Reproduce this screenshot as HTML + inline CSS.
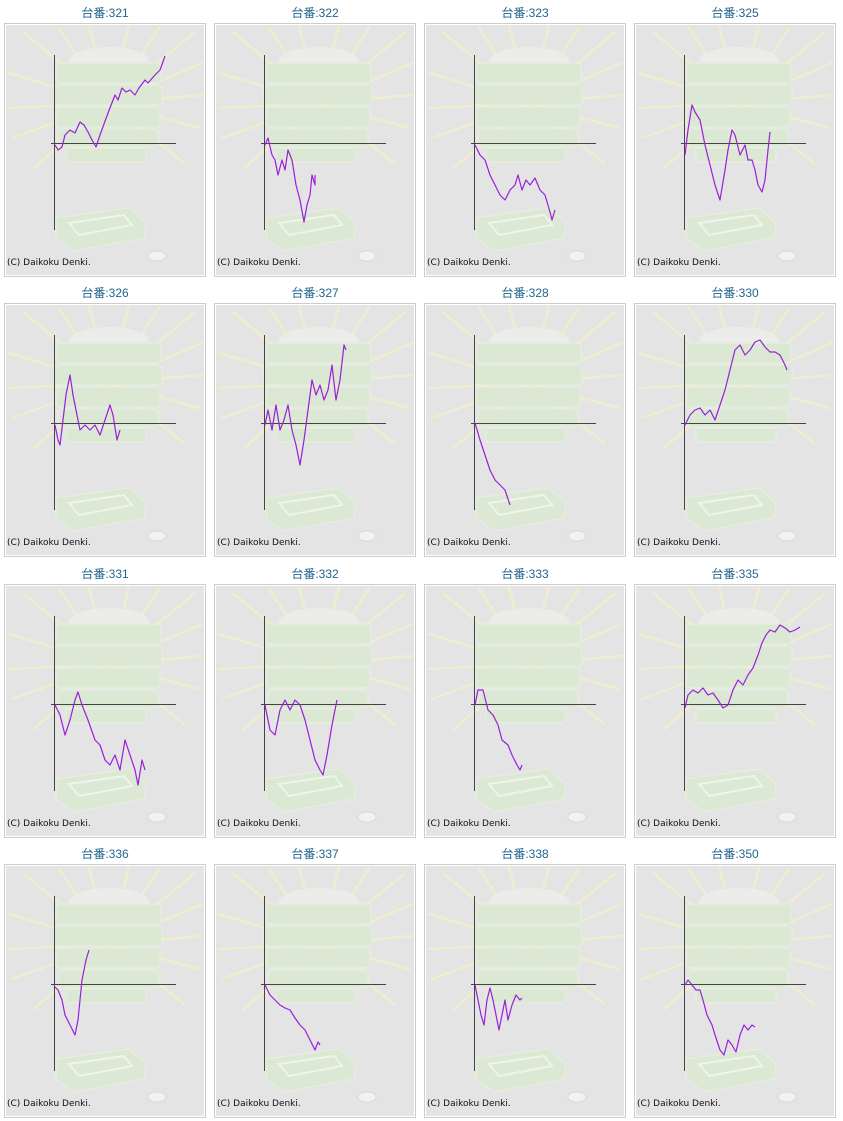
<!DOCTYPE html>
<html><head><meta charset="utf-8"><style>
html,body{margin:0;padding:0;background:#fff;}
svg{display:block}
.t{font-family:"Liberation Sans","Noto Sans CJK JP",sans-serif;font-size:12px;fill:#22668f;text-anchor:middle}
.c{font-family:"DejaVu Sans","Liberation Sans",sans-serif;font-size:9px;fill:#111}
.s{fill:none;stroke:#9a1fdc;stroke-width:1.2;stroke-linejoin:round}
</style></head><body>
<svg width="843" height="1121" viewBox="0 0 843 1121" xmlns="http://www.w3.org/2000/svg">
<defs>
<g id="bg">
<rect x="0.5" y="0.5" width="201" height="253" fill="#fff" stroke="#ccc"/>
<rect x="2" y="2" width="198" height="250" fill="#e4e4e4"/>
<g stroke="#eeeecf" stroke-width="2.5" stroke-linecap="round">
<line x1="105" y1="80" x2="5" y2="50"/><line x1="105" y1="80" x2="5" y2="85"/><line x1="105" y1="80" x2="8" y2="115"/>
<line x1="105" y1="80" x2="20" y2="10"/><line x1="105" y1="80" x2="55" y2="5"/><line x1="105" y1="80" x2="85" y2="3"/>
<line x1="105" y1="80" x2="125" y2="3"/><line x1="105" y1="80" x2="155" y2="5"/><line x1="105" y1="80" x2="190" y2="10"/>
<line x1="105" y1="80" x2="198" y2="40"/><line x1="105" y1="80" x2="198" y2="72"/><line x1="105" y1="80" x2="195" y2="105"/>
<line x1="105" y1="80" x2="30" y2="145"/><line x1="105" y1="80" x2="180" y2="140"/>
</g>
<ellipse cx="105" cy="38" rx="40" ry="14" fill="#ececea"/>
<g fill="#dbe8d3" stroke="#e8efe2" stroke-width="1">
<rect x="52" y="40" width="105" height="20" rx="4"/>
<rect x="50" y="62" width="108" height="20" rx="4"/>
<rect x="52" y="84" width="104" height="20" rx="4"/>
<rect x="54" y="106" width="100" height="18" rx="4"/>
<rect x="62" y="125" width="80" height="14" rx="3"/>
<path d="M52 195 L125 185 L142 200 L140 215 L70 228 L52 215 Z"/>
</g>
<path d="M65 200 L120 192 L128 202 L75 212 Z" fill="none" stroke="#eef4ea" stroke-width="2"/>
<ellipse cx="153" cy="233" rx="9" ry="5" fill="#f2f2f2" stroke="#d8d8d8"/>
<line x1="50.5" y1="32" x2="50.5" y2="207" stroke="#444" stroke-width="1"/>
<line x1="47" y1="120.5" x2="172" y2="120.5" stroke="#444" stroke-width="1"/>
<text class="c" x="3" y="242">(C) Daikoku Denki.</text>
</g>
</defs>
<use href="#bg" x="4" y="23"/><use href="#bg" x="214" y="23"/><use href="#bg" x="424" y="23"/><use href="#bg" x="634" y="23"/>
<use href="#bg" x="4" y="303"/><use href="#bg" x="214" y="303"/><use href="#bg" x="424" y="303"/><use href="#bg" x="634" y="303"/>
<use href="#bg" x="4" y="584"/><use href="#bg" x="214" y="584"/><use href="#bg" x="424" y="584"/><use href="#bg" x="634" y="584"/>
<use href="#bg" x="4" y="864"/><use href="#bg" x="214" y="864"/><use href="#bg" x="424" y="864"/><use href="#bg" x="634" y="864"/>
<text class="t" x="105" y="17">台番:321</text><text class="t" x="315" y="17">台番:322</text><text class="t" x="525" y="17">台番:323</text><text class="t" x="735" y="17">台番:325</text>
<text class="t" x="105" y="297">台番:326</text><text class="t" x="315" y="297">台番:327</text><text class="t" x="525" y="297">台番:328</text><text class="t" x="735" y="297">台番:330</text>
<text class="t" x="105" y="578">台番:331</text><text class="t" x="315" y="578">台番:332</text><text class="t" x="525" y="578">台番:333</text><text class="t" x="735" y="578">台番:335</text>
<text class="t" x="105" y="858">台番:336</text><text class="t" x="315" y="858">台番:337</text><text class="t" x="525" y="858">台番:338</text><text class="t" x="735" y="858">台番:350</text>
<polyline class="s" points="55,145 58,150 62,147 65,135 70,130 75,133 80,122 84,125 88,132 92,140 96,147 100,135 108,113 115,95 118,100 122,88 126,92 130,90 135,95 139,88 145,80 148,83 155,75 160,70 165,56"/>
<polyline class="s" points="265,145 268,138 272,155 275,160 278,175 282,160 285,170 288,150 292,160 296,185 300,200 304,222 307,205 310,195 312,175 315,185 315,175"/>
<polyline class="s" points="475,145 480,155 485,160 490,175 495,185 500,195 505,200 510,190 515,185 518,175 522,190 526,180 530,185 535,178 540,190 545,195 550,212 552,220 555,210"/>
<polyline class="s" points="685,155 688,130 692,105 695,112 700,120 705,145 710,165 715,185 720,200 725,170 728,150 732,130 735,135 740,155 745,145 748,160 752,160 755,170 758,185 762,192 765,180 768,150 770,132"/>
<polyline class="s" points="55,425 58,440 60,445 63,420 66,395 70,375 73,395 76,410 80,430 85,425 90,430 95,425 100,435 105,420 110,405 113,415 117,440 120,430"/>
<polyline class="s" points="265,425 268,410 272,430 276,405 280,430 284,420 288,405 292,430 296,445 300,465 304,440 308,410 312,380 316,395 320,385 324,400 328,390 332,365 336,400 340,380 344,345 346,350"/>
<polyline class="s" points="475,423 480,440 485,455 490,470 495,480 500,485 505,490 510,505"/>
<polyline class="s" points="685,425 690,415 695,410 700,408 705,415 710,410 715,420 720,405 725,390 730,370 735,350 740,345 745,355 750,350 755,342 760,340 765,347 770,352 775,352 780,355 785,365 787,370"/>
<polyline class="s" points="55,705 60,715 65,735 70,720 75,700 78,692 82,705 88,720 95,740 100,745 105,760 110,765 115,755 120,770 125,740 130,755 135,770 138,785 142,760 145,770"/>
<polyline class="s" points="265,705 270,730 275,735 280,710 285,700 290,710 295,700 300,705 305,720 310,740 315,760 320,770 323,775 327,755 332,725 337,700"/>
<polyline class="s" points="475,705 478,690 483,690 488,710 493,715 498,725 502,740 508,745 512,755 517,765 520,770 522,765"/>
<polyline class="s" points="685,708 688,695 693,690 698,693 703,688 708,695 713,693 718,700 723,708 728,705 733,690 738,680 743,685 748,675 753,668 758,655 762,643 766,635 770,630 775,632 780,625 785,628 790,632 795,630 800,627"/>
<polyline class="s" points="55,987 58,990 62,1000 65,1015 70,1025 75,1035 78,1020 82,980 86,960 89,950"/>
<polyline class="s" points="265,985 270,995 275,1000 280,1005 285,1008 290,1010 295,1018 300,1025 305,1030 310,1040 315,1050 318,1042 320,1045"/>
<polyline class="s" points="475,985 478,1000 481,1015 484,1025 487,1000 490,988 493,1000 496,1015 499,1030 502,1015 505,1000 508,1020 512,1005 516,995 520,1000 522,998"/>
<polyline class="s" points="685,985 688,980 692,985 696,990 700,990 703,1000 707,1015 712,1025 715,1035 720,1050 724,1055 728,1040 732,1045 736,1052 740,1035 744,1025 748,1030 752,1025 755,1027"/>
</svg>
</body></html>
